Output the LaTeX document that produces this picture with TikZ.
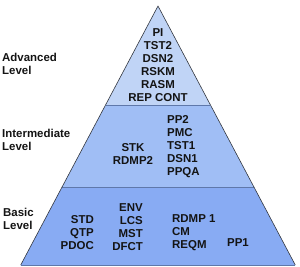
\documentclass[tikz,border=0pt]{standalone}
\usepackage{fontspec}
\setmainfont{Liberation Sans}
\usepackage{tikz}
\usetikzlibrary{positioning}
\definecolor{ink}{RGB}{20,20,20}
\definecolor{edge}{RGB}{50,54,62}
\definecolor{divider}{RGB}{95,120,170}
\definecolor{tierlight}{RGB}{192,212,246}
\definecolor{tiermid}{RGB}{160,190,245}
\definecolor{tierbase}{RGB}{136,171,243}
\tikzset{
    tier/.style={
        draw=none
    },
    tiercut/.style={
        draw=divider,
        line width=0.8pt
    },
    tierside/.style={
        draw=edge,
        line width=0.6pt,
        line join=round
    },
    levellabel/.style={
        font=\fontsize{11.5}{13}\selectfont\bfseries,
        text=ink,
        align=left,
        anchor=west,
        inner sep=0pt
    },
    skills/.style={
        font=\fontsize{11.5}{13}\selectfont\bfseries,
        text=ink,
        inner sep=0pt
    },
    skillsleft/.style={skills, align=left, anchor=west},
    skillsright/.style={skills, align=right, anchor=east},
    skillsmid/.style={skills, align=center}
}
\begin{document}
\begin{tikzpicture}[x=1bp, y=-1bp]
\useasboundingbox (0,0) rectangle (300,267);

\def\slope{0.53}
\def\midx{158}
\def\topy{6}
\def\cuta{105}
\def\cutb{187}
\def\basey{265}

% pyramid tiers
\coordinate (apex) at (\midx, \topy);
\coordinate (al) at ({\midx-\slope*(\cuta-\topy)}, \cuta);
\coordinate (ar) at ({\midx+\slope*(\cuta-\topy)}, \cuta);
\coordinate (bl) at ({\midx-\slope*(\cutb-\topy)}, \cutb);
\coordinate (br) at ({\midx+\slope*(\cutb-\topy)}, \cutb);
\coordinate (cl) at ({\midx-\slope*(\basey-\topy)}, \basey);
\coordinate (cr) at ({\midx+\slope*(\basey-\topy)}, \basey);

\fill[tier, tierbase] (bl) -- (br) -- (cr) -- (cl) -- cycle;
\fill[tier, tiermid] (al) -- (ar) -- (br) -- (bl) -- cycle;
\fill[tier, tierlight] (apex) -- (ar) -- (al) -- cycle;
\draw[tiercut] (al) -- (ar);
\draw[tiercut] (bl) -- (br);
\draw[tiercut] (cl) -- (cr);
\draw[tierside] (cl) -- (apex) -- (cr);

% level names
\node[levellabel] (advanced) at (2, 64) {Advanced\\Level};
\node[levellabel] (intermediate) at (2, 139.5) {Intermediate\\Level};
\node[levellabel] (basic) at (3, 218.5) {Basic\\Level};

% advanced tier
\node[skillsmid] (advskills) at (\midx, 65) {PI\\TST2\\DSN2\\RSKM\\RASM\\REP CONT};

% intermediate tier
\node[skillsmid] (interleft) at (133, 154) {STK\\RDMP2};
\node[skillsleft] (interright) at (167, 146.5) {PP2\\PMC\\TST1\\DSN1\\PPQA};

% basic tier
\node[skillsright] (basicone) at (94, 233) {STD\\QTP\\PDOC};
\node[skillsright] (basictwo) at (143, 227.5) {ENV\\LCS\\MST\\DFCT};
\node[skillsleft] (basicthree) at (172, 233) {RDMP 1\\CM\\REQM};
\node[skillsleft] (basicfour) at (227, 243) {PP1};

\end{tikzpicture}
\end{document}
